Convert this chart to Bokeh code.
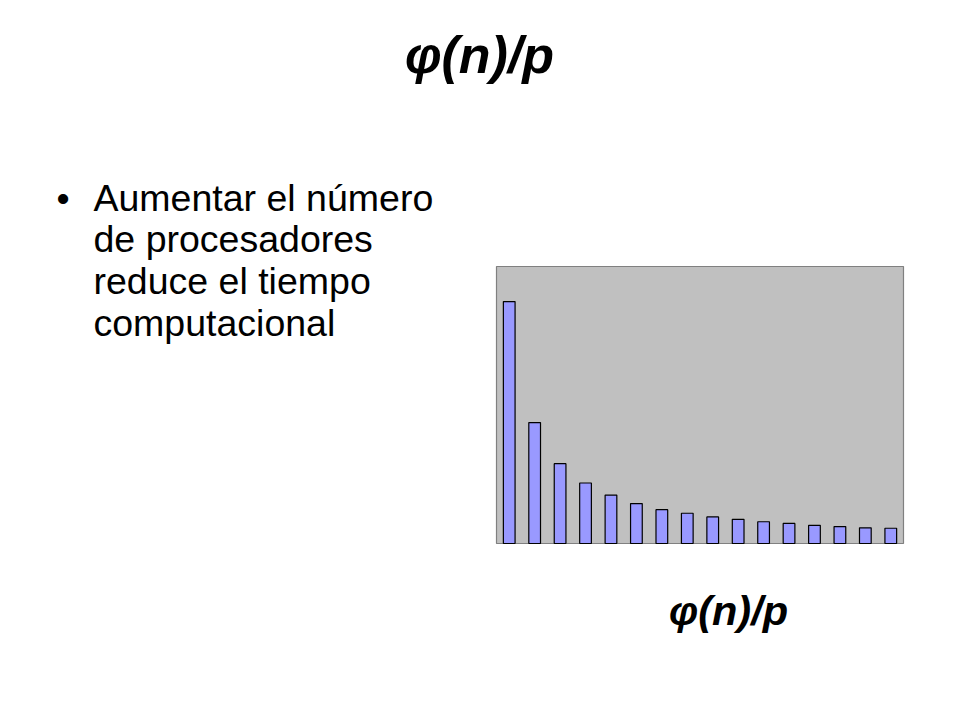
from bokeh.plotting import figure
from bokeh.models import Range1d, Label
from bokeh.embed import file_html
from bokeh.resources import INLINE

# ---- data ----
processors = list(range(1, 17))
phi_over_p = [1.00, 0.50, 0.33, 0.25, 0.20, 0.165, 0.14, 0.125,
              0.11, 0.10, 0.09, 0.083, 0.075, 0.07, 0.065, 0.063]
y_max = 1.145

title_text = "\u03c6(n)/p"
bullet_lines = ["Aumentar el n\u00famero", "de procesadores",
                "reduce el tiempo", "computacional"]
chart_label = "\u03c6(n)/p"

# ---- layout (canvas pixels) ----
W, H = 944, 704
box_l, box_r, box_t, box_b = 496, 903, 266, 543

n = len(processors)
x0, x1 = -0.5, n - 0.5
sx = (box_r - box_l) / (x1 - x0)
x_start = x0 - box_l / sx
x_end = x1 + (W - box_r) / sx
sy = (box_b - box_t) / y_max
y_start = -(H - box_b) / sy
y_end = box_b / sy

p = figure(width=W, height=H, output_backend="svg", toolbar_location=None,
           x_axis_type=None, y_axis_type=None,
           x_range=Range1d(x_start, x_end), y_range=Range1d(y_start, y_end),
           min_border=0, outline_line_color=None,
           background_fill_color="white", border_fill_color="white")
p.grid.visible = False

# plot area
p.quad(left=[x0], right=[x1], bottom=[0], top=[y_max],
       fill_color="#C0C0C0", line_color="#808080", line_width=1.2)

# bars
xs = [i for i in range(n)]
p.vbar(x=xs, top=phi_over_p, bottom=0, width=0.46,
       fill_color="#9999FF", line_color="black", line_width=1.2)

FONT = "Liberation Sans"
DY = 15  # baseline correction

def sy_(page_y):
    return H - (page_y - DY)

def sx_(page_x):
    return page_x

p.add_layout(Label(x=sx_(479), y=sy_(69), x_units="screen", y_units="screen",
                   text=title_text, text_font=FONT, text_font_size="52px",
                   text_font_style="bold italic", text_align="center",
                   text_baseline="alphabetic", text_color="black"))

p.add_layout(Label(x=sx_(56), y=sy_(212), x_units="screen", y_units="screen",
                   text="\u2022", text_font=FONT, text_font_size="37.5px",
                   text_align="left", text_baseline="alphabetic",
                   text_color="black"))

for i, line in enumerate(bullet_lines):
    p.add_layout(Label(x=sx_(93), y=sy_(212 + 41.7 * i), x_units="screen",
                       y_units="screen", text=line, text_font=FONT,
                       text_font_size="37.5px", text_align="left",
                       text_baseline="alphabetic", text_color="black"))

p.add_layout(Label(x=sx_(728), y=sy_(625), x_units="screen", y_units="screen",
                   text=chart_label, text_font=FONT, text_font_size="41.5px",
                   text_font_style="bold italic", text_align="center",
                   text_baseline="alphabetic", text_color="black"))

open("out.html", "w").write(file_html(p, INLINE))
